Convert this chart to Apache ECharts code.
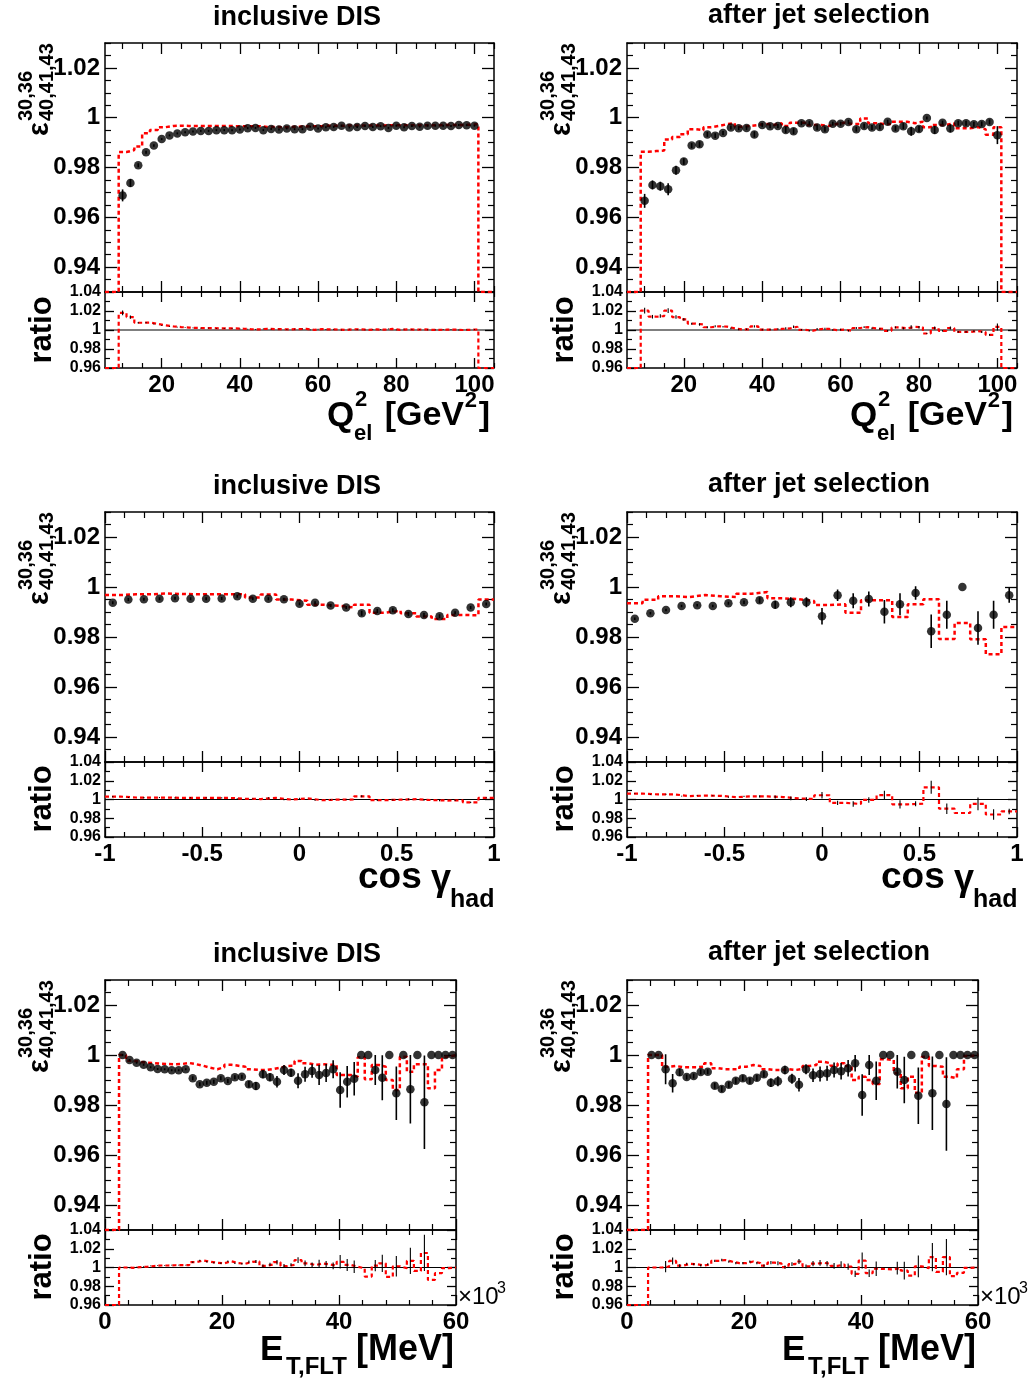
<!DOCTYPE html>
<html><head><meta charset="utf-8">
<script src="https://cdn.jsdelivr.net/npm/echarts@6/dist/echarts.min.js"></script>
<style>html,body{margin:0;padding:0;background:#fff}#c{width:1034px;height:1380px}</style>
</head><body><div id="c"></div><script>
// ---------------- DATA ----------------
// Q2_el bins: width 2 GeV^2, from 9 to 101 (centres 10..100)
const q2IncData = [0.9688,0.9738,0.9809,0.9861,0.9888,0.9914,0.9929,0.9937,0.9942,0.9945,0.9947,0.9947,0.9950,0.9950,0.9950,0.9953,0.9958,0.9959,0.9950,0.9955,0.9953,0.9957,0.9954,0.9954,0.9964,0.9957,0.9962,0.9963,0.9968,0.9961,0.9963,0.9967,0.9963,0.9966,0.9959,0.9968,0.9962,0.9967,0.9964,0.9968,0.9968,0.9968,0.9967,0.9971,0.9970,0.9968];
const q2IncErr = [0.0024,0.0016,0.0008,0.0006,0.0005,0.0004,0.0004,0.0004,0.0004,0.0004,0.0004,0.0004,0.0004,0.0004,0.0004,0.0004,0.0004,0.0004,0.0004,0.0004,0.0004,0.0004,0.0004,0.0004,0.0004,0.0004,0.0004,0.0004,0.0004,0.0004,0.0004,0.0004,0.0004,0.0004,0.0004,0.0004,0.0004,0.0004,0.0004,0.0004,0.0004,0.0004,0.0004,0.0004,0.0004,0.0004];
const q2IncMC = [0.9862,0.9870,0.9884,0.9938,0.9951,0.9962,0.9967,0.9968,0.9967,0.9967,0.9967,0.9967,0.9967,0.9967,0.9966,0.9966,0.9966,0.9966,0.9963,0.9963,0.9962,0.9962,0.9964,0.9965,0.9966,0.9966,0.9968,0.9968,0.9968,0.9969,0.9969,0.9969,0.9969,0.9969,0.9970,0.9970,0.9970,0.9970,0.9970,0.9970,0.9970,0.9971,0.9971,0.9971,0.9972,0.9974];
const q2JetData = [0.9666,0.9730,0.9725,0.9713,0.9789,0.9824,0.9888,0.9893,0.9933,0.9928,0.9939,0.9961,0.9958,0.9959,0.9933,0.9971,0.9966,0.9967,0.9951,0.9946,0.9978,0.9978,0.9961,0.9954,0.9976,0.9976,0.9983,0.9954,0.9967,0.9961,0.9963,0.9984,0.9957,0.9966,0.9946,0.9955,0.9999,0.9951,0.9980,0.9957,0.9978,0.9978,0.9974,0.9975,0.9983,0.9930];
const q2JetErr = [0.0028,0.0018,0.0018,0.0024,0.0018,0.0013,0.0010,0.0012,0.0010,0.0010,0.0008,0.0008,0.0008,0.0008,0.0012,0.0008,0.0008,0.0008,0.0012,0.0012,0.0008,0.0008,0.0010,0.0010,0.0008,0.0008,0.0008,0.0010,0.0010,0.0010,0.0010,0.0008,0.0010,0.0012,0.0018,0.0012,0.0006,0.0016,0.0008,0.0016,0.0010,0.0010,0.0010,0.0010,0.0010,0.0036];
const q2JetMC = [0.9863,0.9866,0.9868,0.9912,0.9922,0.9934,0.9954,0.9950,0.9962,0.9967,0.9974,0.9978,0.9964,0.9967,0.9971,0.9975,0.9971,0.9978,0.9967,0.9980,0.9980,0.9971,0.9971,0.9967,0.9975,0.9980,0.9975,0.9975,0.9997,0.9978,0.9975,0.9975,0.9984,0.9984,0.9978,0.9984,0.9962,0.9971,0.9971,0.9978,0.9958,0.9958,0.9962,0.9954,0.9932,0.9962];

// cos gamma_had bins: width 0.08 from -1 to 1
const cosIncData = [0.9937,0.9950,0.9951,0.9953,0.9955,0.9953,0.9953,0.9954,0.9963,0.9953,0.9953,0.9951,0.9933,0.9937,0.9926,0.9918,0.9895,0.9904,0.9907,0.9892,0.9888,0.9883,0.9897,0.9918,0.9932];
const cosIncErr = [0.0006,0.0006,0.0006,0.0006,0.0006,0.0006,0.0006,0.0006,0.0006,0.0006,0.0006,0.0006,0.0006,0.0006,0.0006,0.0006,0.0010,0.0008,0.0008,0.0008,0.0008,0.0008,0.0006,0.0006,0.0006];
const cosIncMC = [0.9968,0.9971,0.9971,0.9974,0.9972,0.9971,0.9971,0.9971,0.9971,0.9958,0.9970,0.9950,0.9945,0.9929,0.9925,0.9918,0.9929,0.9897,0.9905,0.9895,0.9882,0.9872,0.9888,0.9887,0.9950];
const cosJetData = [0.9873,0.9895,0.9908,0.9924,0.9927,0.9924,0.9935,0.9939,0.9947,0.9929,0.9939,0.9939,0.9883,0.9967,0.9945,0.9952,0.9901,0.9931,0.9976,0.9823,0.9889,1.0000,0.9836,0.9889,0.9967];
const cosJetErr = [0.0005,0.0005,0.0005,0.0005,0.0005,0.0005,0.0006,0.0007,0.0012,0.0016,0.0020,0.0020,0.0033,0.0023,0.0030,0.0030,0.0047,0.0044,0.0027,0.0067,0.0056,0,0.0067,0.0056,0.0030];
const cosJetMC = [0.9935,0.9949,0.9963,0.9960,0.9968,0.9963,0.9960,0.9973,0.9980,0.9955,0.9951,0.9944,0.9928,0.9931,0.9897,0.9947,0.9947,0.9880,0.9931,0.9951,0.9792,0.9856,0.9791,0.9731,0.9840];

// E_T,FLT bins (x10^3 MeV): width 1.2 from 0 to 60 ; data start at bin 2 (inclusive) / bin 3 (jets)
const etIncData = [1.0,0.998,0.9969,0.9961,0.9951,0.9944,0.9943,0.9939,0.9939,0.9943,0.9907,0.9883,0.9889,0.9893,0.9907,0.9896,0.9911,0.9913,0.9883,0.9876,0.9923,0.9911,0.9893,0.9940,0.9929,0.9897,0.9923,0.9936,0.9920,0.9928,0.9943,0.9860,0.9893,0.9905,1.0,1.0,0.9940,0.9909,1.0,0.9847,1.0,0.9863,1.0,0.9811,1.0,1.0,1.0,1.0];
const etIncErr = [0.0004,0.0004,0.0004,0.0004,0.0004,0.0004,0.0004,0.0004,0.0004,0.0004,0.0008,0.0008,0.0008,0.0008,0.0008,0.0008,0.0008,0.0008,0.0013,0.0016,0.0016,0.0016,0.0023,0.0020,0.0016,0.0030,0.0030,0.0027,0.0040,0.0036,0.0036,0.0071,0.0063,0.0067,0,0,0.0060,0.0090,0,0.0107,0,0.0137,0,0.0187,0,0,0,0];
const etIncMC = [0,0,1.0,0.9977,0.9973,0.9969,0.9967,0.9965,0.9964,0.9963,0.9964,0.9968,0.9963,0.9957,0.9949,0.9943,0.9951,0.9961,0.9957,0.9953,0.9943,0.9940,0.9940,0.9944,0.9949,0.9956,0.9957,0.9976,0.9967,0.9961,0.9963,0.9961,0.9961,0.9920,0.9920,0.9913,0.9991,0.9903,0.9960,0.9953,0.9900,0.9860,0.9993,0.9933,0.9963,0.9963,0.9867,0.9940,0.9993,1.0];
const etJetData = [1.0,1.0,0.9943,0.9887,0.9931,0.9912,0.9916,0.9932,0.9933,0.9877,0.9864,0.9881,0.9897,0.9907,0.9897,0.9909,0.9923,0.9889,0.9895,0.9940,0.9905,0.9881,0.9943,0.9919,0.9924,0.9927,0.9940,0.9935,0.9947,0.9967,0.9840,0.9960,0.9897,1.0,1.0,0.9933,0.9900,1.0,0.9837,1.0,0.9847,1.0,0.9804,1.0,1.0,1.0,1.0];
const etJetErr = [0,0,0.0060,0.0037,0.0015,0.0010,0.0010,0.0010,0.0010,0.0012,0.0012,0.0012,0.0012,0.0012,0.0012,0.0012,0.0012,0.0017,0.0020,0.0017,0.0020,0.0027,0.0020,0.0027,0.0030,0.0030,0.0030,0.0033,0.0033,0.0033,0.0083,0.0040,0.0077,0,0,0.0067,0.0093,0,0.0113,0,0.0147,0,0.0187,0,0,0,0];
const etJetMC = [0,0,0,1.0,1.0,0.9953,0.9956,0.9951,0.9951,0.9951,0.9953,0.9967,0.9947,0.9943,0.9943,0.9943,0.9953,0.9960,0.9956,0.9943,0.9940,0.9940,0.9943,0.9940,0.9944,0.9956,0.9960,0.9973,0.9967,0.9957,0.9967,0.9956,0.9900,0.9913,0.9900,0.9884,0.9983,0.9980,0.9927,0.9867,0.9913,0.9849,0.9993,0.9956,0.9953,0.9913,0.9907,0.9943,0.9996,1.0];

// tick labels
const q2Major = [20,40,60,80,100];
const cosMajor = [-1,-0.5,0,0.5,1];
const etMajor = [0,20,40,60];
const effMajor = [0.94,0.96,0.98,1,1.02];
const ratioMajor = [0.96,0.98,1,1.02,1.04];
const titles = ['inclusive DIS','after jet selection'];

// ---------------- BUILD ----------------
const FONT = '"Liberation Sans", Arial, sans-serif';
function seq(a,b,s){const o=[];const n=Math.round((b-a)/s);for(let i=0;i<=n;i++)o.push(+(a+i*s).toFixed(6));return o;}
function minus(arr,rm){return arr.filter(v=>!rm.some(r=>Math.abs(r-v)<1e-9));}
const q2Minor = minus(seq(10,105,5), q2Major);
const cosMinor = minus(seq(-1,1,0.1), cosMajor);
const etMinor = minus(seq(0,60,4), etMajor);
const effMinor = minus(seq(0.935,1.03,0.005), effMajor);
const ratioMinor = [0.97,0.99,1.01,1.03];

const xR = {
  q2: {min:5.5, max:105, lo:9, w:2, major:q2Major, minor:q2Minor},
  cos:{min:-1, max:1, lo:-1, w:0.08, major:cosMajor, minor:cosMinor},
  et: {min:0, max:60, lo:0, w:1.2, major:etMajor, minor:etMinor}
};
const panels = [
  {col:0,row:0,xr:'q2',data:q2IncData,err:q2IncErr,mc:q2IncMC,dStart:0},
  {col:1,row:0,xr:'q2',data:q2JetData,err:q2JetErr,mc:q2JetMC,dStart:0},
  {col:0,row:1,xr:'cos',data:cosIncData,err:cosIncErr,mc:cosIncMC,dStart:0},
  {col:1,row:1,xr:'cos',data:cosJetData,err:cosJetErr,mc:cosJetMC,dStart:0},
  {col:0,row:2,xr:'et',data:etIncData,err:etIncErr,mc:etIncMC,dStart:2},
  {col:1,row:2,xr:'et',data:etJetData,err:etJetErr,mc:etJetMC,dStart:3}
];
const rowsGeo = [{top:43,mainH:249,ratH:76},{top:512,mainH:250,ratH:75},{top:980,mainH:250,ratH:75}];
const fmt = v => String(Math.round(v*1000)/1000);

function axisSet(kind,g,min,max,major,minor,labels,lsize,lmaj,lmin,margin){
  const pos = kind==='x'?['bottom','top']:['left','right'];
  const out=[];
  pos.forEach((p,i)=>{
    out.push({gridIndex:g,type:'value',min,max,position:p,
      axisLine:{show:true,onZero:false,lineStyle:{color:'#000',width:1.5}},
      axisTick:{show:true,inside:true,length:lmaj,customValues:major,lineStyle:{color:'#000',width:1.3}},
      axisLabel:{show:labels&&i===0,customValues:major,formatter:fmt,fontSize:lsize,fontWeight:'bold',color:'#000',fontFamily:FONT,margin:margin},
      splitLine:{show:false},minorTick:{show:false},minorSplitLine:{show:false}});
    out.push({gridIndex:g,type:'value',min,max,position:p,
      axisLine:{show:false,onZero:false},
      axisTick:{show:true,inside:true,length:lmin,customValues:minor,lineStyle:{color:'#000',width:1.2}},
      axisLabel:{show:false},splitLine:{show:false}});
  });
  return out;
}
function stepPts(X,vals,start,floor){
  const pts=[]; const lo=X.lo+X.w*start;
  if(lo>X.min) pts.push([X.min,floor]);
  vals.forEach((v,i)=>pts.push([lo+X.w*i, Math.max(v,floor)]));
  const end=lo+X.w*vals.length;
  if(end<X.max){pts.push([end,floor]);pts.push([X.max,floor]);}
  else pts.push([end,Math.max(vals[vals.length-1],floor)]);
  return pts;
}
function errSeries(xi,yi,data,color,width){
  return {type:'custom',xAxisIndex:xi,yAxisIndex:yi,clip:true,silent:true,z:4,data,
    encode:{x:0,y:1},
    renderItem:(params,api)=>{
      const x=api.value(0),y=api.value(1),e=api.value(2);
      if(!e) return null;
      const a=api.coord([x,y-e]),b=api.coord([x,y+e]);
      return {type:'line',shape:{x1:a[0],y1:a[1],x2:b[0],y2:b[1]},style:{stroke:color,lineWidth:width}};
    }};
}

const grids=[],xAxes=[],yAxes=[],series=[];
panels.forEach(p=>{
  const X=xR[p.xr]; const L=p.col===0?105:627;
  const W=p.xr==='et'?351:(p.col===0?389:390);
  const G=rowsGeo[p.row];
  const gM=grids.length;
  grids.push({left:L,top:G.top,width:W,height:G.mainH,containLabel:false,outerBoundsMode:'none'});
  const gR=grids.length;
  grids.push({left:L,top:G.top+G.mainH,width:W,height:G.ratH,containLabel:false,outerBoundsMode:'none'});
  const xm=xAxes.length; xAxes.push(...axisSet('x',gM,X.min,X.max,X.major,X.minor,false,24,11,6,6));
  const ym=yAxes.length; yAxes.push(...axisSet('y',gM,0.93,1.03,effMajor,effMinor,true,24,12,6,5));
  const xr=xAxes.length; xAxes.push(...axisSet('x',gR,X.min,X.max,X.major,X.minor,true,24,10,5,5));
  const yr=yAxes.length; yAxes.push(...axisSet('y',gR,0.96,1.04,ratioMajor,ratioMinor,true,16,9,5,4));

  // points
  const pts=p.data.map((v,i)=>[X.lo+X.w*(p.dStart+i+0.5),v,p.err[i]]);
  series.push({type:'line',xAxisIndex:xm,yAxisIndex:ym,data:stepPts(X,p.mc,0,0.93),step:'end',showSymbol:false,symbol:'none',silent:true,clip:true,z:3,
    lineStyle:{color:'#ff0000',width:2.5,type:[4,3]}});
  series.push(errSeries(xm,ym,pts,'#000',1.6));
  series.push({type:'scatter',xAxisIndex:xm,yAxisIndex:ym,data:pts.map(d=>[d[0],d[1]]),symbol:'circle',symbolSize:8.5,
    itemStyle:{color:'#000'},silent:true,z:5,clip:true});

  // ratio MC / data
  const off=p.dStart;
  const ratio=p.mc.map((m,i)=>{const d=p.data[i-off];return (d!==undefined&&m>0)?m/d:0;});
  const rErr=[];
  p.data.forEach((d,i)=>{const r=ratio[i+off];if(r>0)rErr.push([X.lo+X.w*(i+off+0.5),r,p.err[i]/d*r]);});
  series.push({type:'line',xAxisIndex:xr,yAxisIndex:yr,data:[[X.min,1],[X.max,1]],showSymbol:false,symbol:'none',silent:true,z:2,
    lineStyle:{color:'#000',width:1.2}});
  series.push(errSeries(xr,yr,rErr,'#000',1.1));
  series.push({type:'line',xAxisIndex:xr,yAxisIndex:yr,data:stepPts(X,ratio,0,0.96),step:'end',showSymbol:false,symbol:'none',silent:true,clip:true,z:3,
    lineStyle:{color:'#ff0000',width:2.2,type:[4,3]}});
});

// ---------------- TEXT ----------------
function T(text,x,y,size,align,weight){
  return {type:'text',x,y,silent:true,z:100,style:{text,font:`${weight||'bold'} ${size}px ${FONT}`,fill:'#000',
    align:align||'left',verticalAlign:'middle',textAlign:align||'left',textVerticalAlign:'middle'}};
}
const gfx=[];
const rowDY=[0,469,937];
[0,1].forEach(c=>{
  const dx=c===0?0:522;
  rowDY.forEach((dy,r)=>{
    gfx.push(T(titles[c],(c===0?297:819),(c===0?18:16)+dy,27,'center'));
    gfx.push({type:'group',x:38+dx,y:136+dy,rotation:Math.PI/2,children:[
      T('\u03b5',0,2,29,'left'),
      T('30,36',15,-12,20,'left'),
      T('40,41,43',15,9,20,'left')
    ]});
    gfx.push({type:'group',x:42+dx,y:330+dy,rotation:Math.PI/2,children:[T('ratio',0,0,31,'center')]});
  });
  // row 1 x title
  let R=c===0?494:1017;
  gfx.push(T('Q',R-167,416,35),T('2',R-139,400,22),T('el',R-140,434,22),
    T('[GeV',R-30,416,34,'right'),T('2',R-17,401,22,'right'),T(']',R-4,416,34,'right'));
  // row 2 x title
  gfx.push(T('cos',R-136,878,37),T('\u03b3',R-63,880,36,'left','bold'),T('had',R-44,900,25));
  // row 3 x title
  R=c===0?456:978;
  gfx.push(T('E',R-196,1350,35),T('T,FLT',R-170,1367,24),T('[MeV]',R-100,1350,36),
    T('\u00d710',R+2,1297,24,'left','normal'),T('3',R+41,1289,16,'left','normal'));
});

const chart=echarts.init(document.getElementById('c'),null,{renderer:'canvas'});
chart.setOption({animation:false,backgroundColor:'#fff',grid:grids,xAxis:xAxes,yAxis:yAxes,series,graphic:{elements:gfx}});
</script></body></html>
